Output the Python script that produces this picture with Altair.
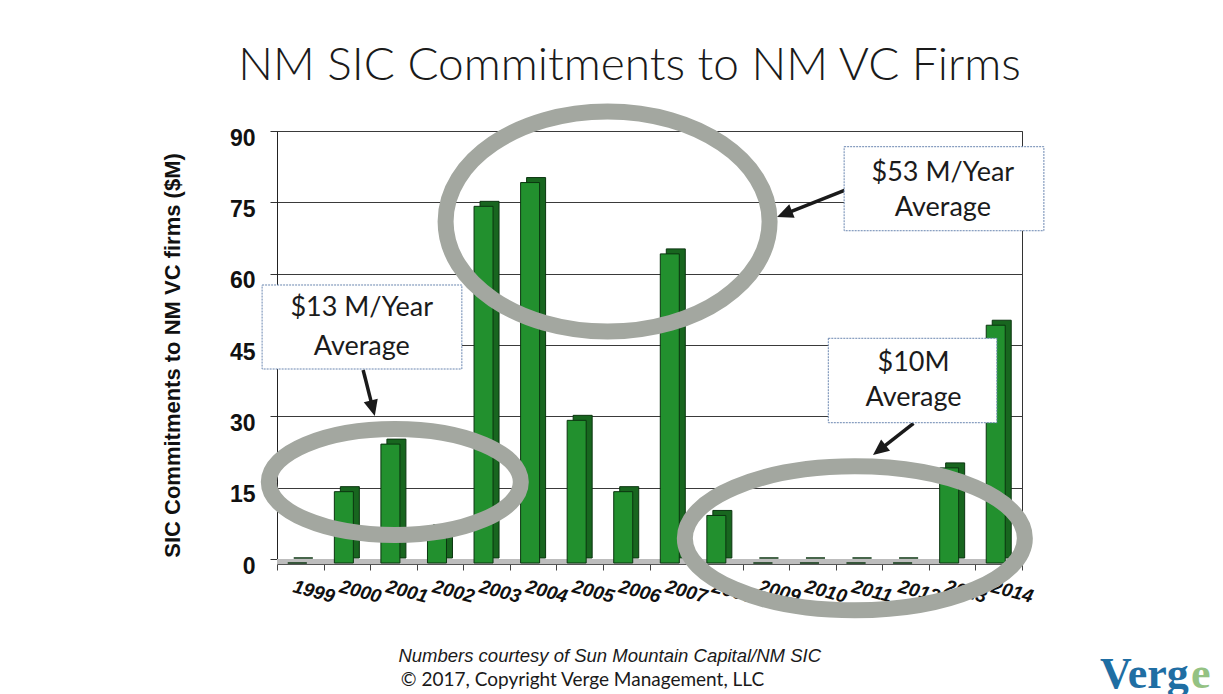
import math
import altair as alt
import pandas as pd

# ---------------- data ----------------
years = ["1999", "2000", "2001", "2002", "2003", "2004", "2005", "2006",
         "2007", "2008", "2009", "2010", "2011", "2012", "2013", "2014"]
commitments = [0, 15, 25, 7, 75, 80, 30, 15, 65, 10, 0, 0, 0, 0, 20, 50]
y_ticks = [0, 15, 30, 45, 60, 75, 90]

# annotations in (year position, $M) coordinates
ellipse_x = [2001.03, 2005.60, 2010.91]
ellipse_y = [16.19, 70.97, 4.35]
ellipse_rx = [126, 162, 170]
ellipse_ry = [53, 110, 72]

box_x1 = [1998.18, 2010.68, 2010.34]
box_x2 = [2002.47, 2014.97, 2013.96]
box_y1 = [57.62, 86.70, 46.41]
box_y2 = [39.95, 69.03, 28.66]
box_line1 = ["$13 M/Year", "$53 M/Year", "$10M"]
box_line2 = ["Average", "Average", "Average"]
box_tx = [2000.32, 2012.80, 2012.17]
box_ty1 = [52.78, 81.10, 41.15]
box_ty2 = [44.64, 73.74, 33.79]

arrow_x1 = [2000.35, 2010.70, 2012.17]
arrow_y1 = [39.74, 77.59, 28.53]
arrow_x2 = [2000.60, 2009.24, 2011.30]
arrow_y2 = [30.07, 71.92, 21.87]
arrow_angle = [165.4, 248.3, 231.8]

title_text = "NM SIC Commitments to NM VC Firms"
footer1 = "Numbers courtesy of Sun Mountain Capital/NM SIC"
footer2 = "\u00a9 2017, Copyright Verge Management, LLC"

# ---------------- layout ----------------
W, H = 745, 428
PX_YEAR = W / 16.0
PX_UNIT = H / 90.0

def ellipse_path(b):
    k = 0.5523
    f = lambda v: f"{v:.4f}"
    return (f"M1,0 C1,{f(k*b)} {f(k)},{f(b)} 0,{f(b)} "
            f"C{f(-k)},{f(b)} -1,{f(k*b)} -1,0 "
            f"C-1,{f(-k*b)} {f(-k)},{f(-b)} 0,{f(-b)} "
            f"C{f(k)},{f(-b)} 1,{f(-k*b)} 1,0 Z")

ell_df = pd.DataFrame({
    "ax": ellipse_x, "ay": ellipse_y,
    "shp": [ellipse_path(ry / rx) for rx, ry in zip(ellipse_rx, ellipse_ry)],
    "sz": [(2 * rx) ** 2 for rx in ellipse_rx],
})

# shorten arrow shafts so the head covers the end
ex, ey = [], []
for x1, y1, x2, y2 in zip(arrow_x1, arrow_y1, arrow_x2, arrow_y2):
    dx = (x2 - x1) * PX_YEAR
    dy = (y2 - y1) * PX_UNIT
    L = math.hypot(dx, dy)
    f = max(0.0, 1 - 10.0 / L)
    ex.append(x1 + (x2 - x1) * f)
    ey.append(y1 + (y2 - y1) * f)
arrow_df = pd.DataFrame({"ax": arrow_x1, "ay": arrow_y1, "ax2": ex, "ay2": ey,
                         "tx": arrow_x2, "ty": arrow_y2, "ang": arrow_angle})
box_df = pd.DataFrame({"ax": box_x1, "ax2": box_x2, "ay": box_y1, "ay2": box_y2})
btxt_df = pd.DataFrame({"ax": box_tx, "ay1": box_ty1, "ay2": box_ty2,
                        "l1": box_line1, "l2": box_line2})

df = pd.DataFrame({"year": years, "value": commitments})

# ---------------- bars group ----------------
xaxis = alt.Axis(labelAngle=15, labelAlign="left", labelBaseline="top",
                 labelFont="Liberation Sans", labelFontSize=19,
                 labelFontStyle="italic", labelFontWeight="bold",
                 labelColor="#111111", labelPadding=7, labelOffset=-5,
                 offset=5, tickBand="extent", tickSize=6, tickColor="#444444",
                 domainColor="#555555", grid=False, title=None)
yaxis = alt.Axis(values=y_ticks, grid=True, gridColor="#3a3a3a", gridWidth=1,
                 tickSize=7, tickColor="#333333", domainColor="#222222",
                 labelFont="Liberation Sans", labelFontSize=23,
                 labelFontWeight="bold", labelColor="#111111",
                 labelPadding=15, labelOffset=7,
                 title="SIC Commitments to NM VC firms ($M)",
                 titleFont="Liberation Sans", titleFontSize=22,
                 titleFontWeight="bold", titleColor="#111111",
                 titleX=-105, titleY=224, titleAngle=270,
                 titleAlign="center", titleBaseline="middle")

xenc = alt.X("year:N", sort=years, scale=alt.Scale(paddingInner=0, paddingOuter=0),
             axis=xaxis, title=None)
yenc = alt.Y("value:Q", scale=alt.Scale(domain=[0, 90], nice=False, zero=True),
             axis=yaxis)

floor = alt.Chart(pd.DataFrame({"value": [0]})).mark_rule(
    color="#bdbdbd", strokeWidth=5, yOffset=2.5).encode(y=yenc)
side = alt.Chart(df).mark_bar(size=19, xOffset=3, yOffset=-1, color="#18661f",
                              stroke="#0b3510", strokeWidth=1).encode(x=xenc, y=yenc)
front = alt.Chart(df).mark_bar(size=19, xOffset=-3, yOffset=4, color="#22902e",
                               stroke="#0b3510", strokeWidth=1).encode(x=xenc, y=yenc)
bars = alt.layer(floor, side, front)

# ---------------- annotation group ----------------
axs = alt.Scale(domain=[1998.5, 2014.5], nice=False, zero=False)
ays = alt.Scale(domain=[0, 90], nice=False, zero=False)

ellipses = alt.Chart(ell_df).mark_point(
    filled=False, strokeWidth=16, color="#a3a7a0", opacity=1).encode(
    x=alt.X("ax:Q", scale=axs, axis=None),
    y=alt.Y("ay:Q", scale=ays, axis=None),
    shape=alt.Shape("shp:N", scale=None, legend=None),
    size=alt.Size("sz:Q", scale=None, legend=None))

shafts = alt.Chart(arrow_df).mark_rule(color="#1a1a1a", strokeWidth=3.5).encode(
    x=alt.X("ax:Q", scale=axs, axis=None), x2="ax2:Q",
    y=alt.Y("ay:Q", scale=ays, axis=None), y2="ay2:Q")
heads = alt.Chart(arrow_df).mark_point(
    shape="M0,0 L-0.45,1 L0.45,1 Z", filled=True, color="#1a1a1a",
    opacity=1, size=1024).encode(
    x=alt.X("tx:Q", scale=axs, axis=None),
    y=alt.Y("ty:Q", scale=ays, axis=None),
    angle=alt.Angle("ang:Q", scale=None))

boxes = alt.Chart(box_df).mark_rect(
    fill="white", stroke="#6a86b0", strokeWidth=1, strokeDash=[2, 1]).encode(
    x=alt.X("ax:Q", scale=axs, axis=None), x2="ax2:Q",
    y=alt.Y("ay:Q", scale=ays, axis=None), y2="ay2:Q")

txt_style = dict(font="Lato", fontSize=27, color="#1b1b1b",
                 align="center", baseline="middle")
btext1 = alt.Chart(btxt_df).mark_text(**txt_style).encode(
    x=alt.X("ax:Q", scale=axs, axis=None),
    y=alt.Y("ay1:Q", scale=ays, axis=None), text="l1:N")
btext2 = alt.Chart(btxt_df).mark_text(**txt_style).encode(
    x=alt.X("ax:Q", scale=axs, axis=None),
    y=alt.Y("ay2:Q", scale=ays, axis=None), text="l2:N")

one = pd.DataFrame({"t": [title_text], "f1": [footer1], "f2": [footer2],
                    "l1": ["Verg"], "l2": ["e"]})
title = alt.Chart(one).mark_text(font="Lato", fontSize=46, fontWeight=300,
                                 color="#1a1a1a", align="center",
                                 baseline="alphabetic").encode(
    x=alt.value(352.5), y=alt.value(-51), text="t:N")
foot1 = alt.Chart(one).mark_text(font="Liberation Sans", fontSize=18.5,
                                 fontStyle="italic", color="#1a1a1a",
                                 align="center", baseline="alphabetic").encode(
    x=alt.value(332.7), y=alt.value(530.5), text="f1:N")
foot2 = alt.Chart(one).mark_text(font="Lato", fontSize=19, color="#1a1a1a",
                                 align="center", baseline="alphabetic").encode(
    x=alt.value(305.5), y=alt.value(555), text="f2:N")
logo1 = alt.Chart(one).mark_text(font="Liberation Serif", fontSize=44,
                                 fontWeight="bold", color="#1f6ea3",
                                 align="left", baseline="alphabetic").encode(
    x=alt.value(823), y=alt.value(557), text="l1:N")
logo2 = alt.Chart(one).mark_text(font="Liberation Serif", fontSize=44,
                                 fontWeight="bold", color="#94c283",
                                 align="left", baseline="alphabetic").encode(
    x=alt.value(914), y=alt.value(557), text="l2:N")

annots = alt.layer(ellipses, shafts, heads, boxes, btext1, btext2,
                   title, foot1, foot2, logo1, logo2)

chart = alt.layer(bars, annots).resolve_scale(
    x="independent", y="independent").properties(
    width=W, height=H,
    padding={"left": 269, "top": 123, "right": 193, "bottom": 135},
    autosize=alt.AutoSizeParams(type="none"),
    background="white",
).configure_view(stroke="#333333", strokeWidth=1)

chart.save("out.html", embed_options={"renderer": "svg", "actions": False})
